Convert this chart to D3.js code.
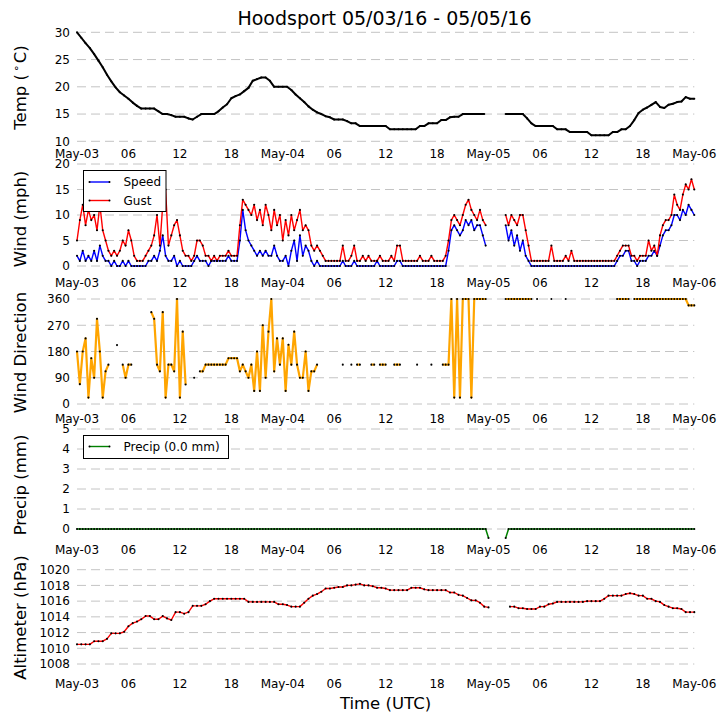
<!DOCTYPE html>
<html><head><meta charset="utf-8">
<script src="https://cdn.jsdelivr.net/npm/d3@7"></script>
<style>body{margin:0;background:#fff}svg{display:block}text{font-family:"DejaVu Sans",sans-serif;fill:#000}</style>
</head><body><svg id="c" width="727" height="725"></svg>
<script>
// ---------- data ----------
const chartTitle = "Hoodsport 05/03/16 - 05/05/16";
const xTickHours = [0,6,12,18,24,30,36,42,48,54,60,66,72];
const xTickLabels = ["May-03","06","12","18","May-04","06","12","18","May-05","06","12","18","May-06"];

const tempTicks = [10,15,20,25,30];
const windTicks = [0,5,10,15,20];
const dirTicks = [0,90,180,270,360];
const precipTicks = [0,1,2,3,4,5];
const altTicks = [1008,1010,1012,1014,1016,1018,1020];

// temperature (deg C), one value every 30 minutes from May-03 00 UTC
const temp = [
30.0,29.0,28.0,27.1,26.0,24.8,23.6,22.2,21.0,19.9,19.0,18.4,
17.8,17.1,16.5,16.0,16.0,16.0,16.0,15.5,15.0,15.0,14.8,14.5,
14.5,14.5,14.2,14.0,14.5,15.0,15.0,15.0,15.0,15.5,16.2,16.8,
17.9,18.3,18.6,19.2,19.8,21.1,21.4,21.7,21.7,21.1,20.0,20.0,
20.0,20.0,19.4,18.6,17.9,17.2,16.4,15.8,15.3,15.0,14.6,14.4,
14.0,14.0,14.0,13.7,13.3,13.3,12.8,12.8,12.8,12.8,12.8,12.8,
12.8,12.2,12.2,12.2,12.2,12.2,12.2,12.2,12.8,12.8,13.3,13.3,
13.3,13.9,13.9,14.4,14.5,14.5,15.0,15.0,15.0,15.0,15.0,15.0,
null,null,null,null,15.0,15.0,15.0,15.0,15.0,14.2,13.3,12.8,
12.8,12.8,12.8,12.8,12.2,12.2,12.2,11.7,11.7,11.7,11.7,11.7,
11.1,11.1,11.1,11.1,11.1,11.7,11.7,12.2,12.2,12.8,13.9,15.2,
15.8,16.2,16.7,17.2,16.3,16.1,16.7,16.9,17.2,17.3,18.1,17.8,
17.8];

// wind speed and gust (mph), one value every 20 minutes
const windSpeed = [
2,1,3, 1,2,1, 3,1,4, 2,1,1, 0,1,0, 0,1,0,
1,0,0, 0,0,0, 0,1,1, 2,1,3, 6,2,1, 1,2,0,
1,0,0, 0,0,1, 2,1,1, 1,0,1, 1,1,1, 1,1,2,
1,1,1, 5,11,7, 5,4,3, 2,3,2, 3,2,2, 4,2,1,
1,2,0, 3,5,1, 6,2,4, 3,1,0, 1,0,0, 0,0,0,
0,0,0, 1,0,0, 0,1,0, 0,0,0, 0,0,0, 1,0,0,
0,0,0, 0,1,1, 0,0,0, 0,0,0, 0,0,0, 0,0,0,
0,0,0, 0,3,7, 8,7,6, 7,9,8, 9,7,8, 8,6,4,
null,null,null, null,null,null, 8,5,7, 4,6,3, 5,2,1, 0,0,0,
0,0,0, 0,0,0, 0,0,0, 0,0,0, 0,0,0, 0,0,0,
0,0,0, 0,0,0, 0,0,0, 1,2,2, 3,3,1, 1,0,1,
1,1,2, 2,3,2, 4,6,7, 7,8,10, 10,9,11, 10,12,11,
10];
const windGust = [
5,9,12, 8,11,9, 10,7,12, 7,5,3, 2,3,2, 3,5,4,
7,5,2, 1,1,1, 2,3,4, 6,10,4, 12,15,4, 6,8,9,
6,3,2, 2,1,2, 5,5,4, 2,2,1, 2,1,2, 2,2,3,
2,2,2, 8,13,12, 11,10,12, 9,11,8, 12,10,7, 11,8,10,
5,9,6, 10,7,9, 11,7,8, 7,4,3, 4,3,2, 1,1,1,
1,1,1, 4,1,1, 2,4,1, 1,2,1, 2,1,1, 1,2,1,
1,1,2, 1,4,4, 1,1,1, 1,1,1, 2,1,1, 1,2,1,
1,1,1, 2,5,9, 10,9,8, 10,12,13, 11,10,9, 11,9,8,
null,null,null, null,null,null, 10,8,10, 9,8,10, 10,7,4, 1,1,1,
1,1,1, 1,4,1, 1,1,1, 2,1,3, 1,1,1, 1,1,1,
1,1,1, 1,1,1, 1,1,1, 2,3,4, 4,4,2, 2,1,2,
2,2,5, 3,4,2, 6,8,9, 9,10,14, 12,11,14, 16,15,17,
15];

// wind direction (degrees), every 20 minutes, null when calm / missing
const windDir = [
180,68,180, 225,22,157, 90,292,180, 22,112,135, null,null,202, null,135,90,
135,135,null, null,null,null, null,null,315, 292,135,112, 315,22,135, 135,112,360,
22,248,67, null,null,90, null,112,112, 135,135,135, 135,135,135, 135,135,157,
157,157,157, 112,135,112, 90,135,45, 180,45,270, 90,248,360, 112,225,135,
225,45,203, 135,248,135, 90,90,180, 45,112,112, 135,null,null, null,null,null,
null,null,null, 135,null,null, 135,null,135, 135,null,null, null,135,135, null,135,135,
135,null,null, 135,135,135, null,null,null, null,null,135, null,null,null, null,135,null,
null,null,135, 135,135,360, 22,360,22, 360,360,360, 22,360,360, 360,360,360,
null,null,null, null,null,null, 360,360,360, 360,360,360, 360,360,360, 360,null,360,
null,null,null, null,360,null, null,null,null, 360,null,null, null,null,null, null,null,null,
null,null,null, null,null,null, null,null,null, 360,360,360, 360,360,null, 360,360,360,
360,360,360, 360,360,360, 360,360,360, 360,360,360, 360,360,360, 360,338,338,
338];

// precipitation (mm), every 20 minutes; -1 = sensor fill value around the outage
const precip = [
0,0,0, 0,0,0, 0,0,0, 0,0,0, 0,0,0, 0,0,0,
0,0,0, 0,0,0, 0,0,0, 0,0,0, 0,0,0, 0,0,0,
0,0,0, 0,0,0, 0,0,0, 0,0,0, 0,0,0, 0,0,0,
0,0,0, 0,0,0, 0,0,0, 0,0,0, 0,0,0, 0,0,0,
0,0,0, 0,0,0, 0,0,0, 0,0,0, 0,0,0, 0,0,0,
0,0,0, 0,0,0, 0,0,0, 0,0,0, 0,0,0, 0,0,0,
0,0,0, 0,0,0, 0,0,0, 0,0,0, 0,0,0, 0,0,0,
0,0,0, 0,0,0, 0,0,0, 0,0,0, 0,0,0, 0,0,0,
-1,null,null, null,null,null, -1,0,0, 0,0,0, 0,0,0, 0,0,0,
0,0,0, 0,0,0, 0,0,0, 0,0,0, 0,0,0, 0,0,0,
0,0,0, 0,0,0, 0,0,0, 0,0,0, 0,0,0, 0,0,0,
0,0,0, 0,0,0, 0,0,0, 0,0,0, 0,0,0, 0,0,0,
0];
const precipTotal = "0.0";

// altimeter (hPa), every 30 minutes
const altimeter = [
1010.5,1010.5,1010.5,1010.5,1010.9,1010.9,1010.9,1011.2,1011.9,1011.9,1011.9,1012.1,
1012.8,1013.2,1013.4,1013.7,1014.1,1014.1,1013.7,1013.7,1014.1,1013.8,1013.6,1014.6,
1014.6,1014.4,1014.6,1015.4,1015.4,1015.4,1015.6,1016.0,1016.3,1016.3,1016.3,1016.3,
1016.3,1016.3,1016.3,1016.3,1015.9,1015.9,1015.9,1015.9,1015.9,1015.9,1015.9,1015.6,
1015.6,1015.5,1015.3,1015.3,1015.3,1015.8,1016.3,1016.7,1016.9,1017.2,1017.6,1017.6,
1017.7,1017.8,1017.8,1018.0,1018.0,1018.1,1018.2,1018.0,1018.0,1017.9,1017.7,1017.7,
1017.6,1017.4,1017.4,1017.4,1017.4,1017.4,1017.7,1017.7,1017.7,1017.5,1017.4,1017.4,
1017.4,1017.4,1017.4,1017.1,1017.1,1016.8,1016.7,1016.4,1016.1,1016.1,1015.8,1015.3,
1015.2,null,null,null,null,1015.3,1015.3,1015.1,1015.1,1015.0,1015.0,1015.0,
1015.3,1015.3,1015.6,1015.7,1015.9,1015.9,1015.9,1015.9,1015.9,1015.9,1015.9,1016.0,
1016.0,1016.0,1016.0,1016.3,1016.7,1016.7,1016.7,1016.7,1016.9,1017.0,1016.9,1016.7,
1016.7,1016.3,1016.3,1016.0,1015.9,1015.5,1015.3,1015.1,1015.1,1015.0,1014.6,1014.6,
1014.6];

// ---------- drawing ----------
const svg = d3.select("#c");
const x = d3.scaleLinear().domain([0,72]).range([77,694.3]);
const toPts = (arr, stepH) => arr.map((v,i)=>({h:i*stepH, v:v}));

const panels = [
  {y:d3.scaleLinear().domain([10,30]).range([141.3,32.3]), ticks:tempTicks, xlabY:157.5, titleY:87.5},
  {y:d3.scaleLinear().domain([0,20]).range([266,164]), ticks:windTicks, xlabY:287, titleY:219},
  {y:d3.scaleLinear().domain([0,360]).range([404,299]), ticks:dirTicks, xlabY:422.5, titleY:352.5},
  {y:d3.scaleLinear().domain([-0.45,5]).range([538,429]).clamp(true), ticks:precipTicks, xlabY:554, titleY:485},
  {y:d3.scaleLinear().domain([1008,1020]).range([664,569.7]), ticks:altTicks, xlabY:688, titleY:617.5}
];

// grid + tick labels
panels.forEach(p=>{
  const g = svg.append("g");
  g.selectAll("line.grid").data(p.ticks).enter().append("line")
    .attr("x1",x(0)).attr("x2",x(72))
    .attr("y1",d=>p.y(d)).attr("y2",d=>p.y(d))
    .attr("stroke","#c4c4c4").attr("stroke-width",1).attr("stroke-dasharray","9,5");
  g.selectAll("text.yt").data(p.ticks).enter().append("text")
    .attr("x",70).attr("y",d=>p.y(d)).attr("dy","0.36em")
    .attr("text-anchor","end").attr("font-size",12).text(d=>d);
  g.selectAll("text.xt").data(xTickHours).enter().append("text")
    .attr("x",d=>x(d)).attr("y",p.xlabY)
    .attr("text-anchor","middle").attr("font-size",12).text((d,i)=>xTickLabels[i]);
});

function drawSeries(p, pts, color, lw){
  const line = d3.line().defined(d=>d.v!==null).x(d=>x(d.h)).y(d=>p.y(d.v));
  svg.append("path").datum(pts).attr("d",line).attr("fill","none")
    .attr("stroke",color).attr("stroke-width",lw).attr("stroke-linejoin","round");
}
function drawDots(p, pts){
  svg.append("g").selectAll("circle").data(pts.filter(d=>d.v!==null)).enter()
    .append("circle").attr("cx",d=>x(d.h)).attr("cy",d=>p.y(d.v)).attr("r",1.05).attr("fill","#000");
}

const tPts = toPts(temp, 0.5);
drawSeries(panels[0], tPts, "#000", 2); drawDots(panels[0], tPts);

const sPts = toPts(windSpeed, 1/3), gPts = toPts(windGust, 1/3);
drawSeries(panels[1], sPts, "#0000ff", 1.4);
drawSeries(panels[1], gPts, "#ff0000", 1.4);
drawDots(panels[1], sPts); drawDots(panels[1], gPts);

const dPts = toPts(windDir, 1/3);
drawSeries(panels[2], dPts, "#ffa500", 2.2); drawDots(panels[2], dPts);

const pPts = toPts(precip, 1/3);
drawSeries(panels[3], pPts, "#008000", 1.5); drawDots(panels[3], pPts);

const aPts = toPts(altimeter, 0.5);
drawSeries(panels[4], aPts, "#ff0000", 1.4); drawDots(panels[4], aPts);

// titles
svg.append("text").attr("x",384.5).attr("y",25).attr("text-anchor","middle")
  .attr("font-size",19).text(chartTitle);

function yTitle(cy, build){
  const t = svg.append("text").attr("transform",`translate(26,${cy}) rotate(-90)`)
    .attr("text-anchor","middle").attr("font-size",16.5);
  build(t);
}
yTitle(panels[0].titleY, t=>{
  t.append("tspan").text("Temp (");
  t.append("tspan").attr("font-size",11).attr("dy",-6).attr("dx",2).text("\u2218");
  t.append("tspan").attr("dy",6).attr("dx",2).text("C)");
});
yTitle(panels[1].titleY, t=>t.text("Wind (mph)"));
yTitle(panels[2].titleY, t=>t.text("Wind Direction"));
yTitle(panels[3].titleY, t=>t.text("Precip (mm)"));
yTitle(panels[4].titleY, t=>t.text("Altimeter (hPa)"));
svg.append("text").attr("x",385.5).attr("y",709).attr("text-anchor","middle")
  .attr("font-size",16.5).text("Time (UTC)");

// legends
function legend(x0,y0,w,h,items){
  const g = svg.append("g");
  g.append("rect").attr("x",x0).attr("y",y0).attr("width",w).attr("height",h)
    .attr("fill","#fff").attr("stroke","#000").attr("stroke-width",1);
  items.forEach(it=>{
    g.append("line").attr("x1",x0+6).attr("x2",x0+26).attr("y1",it.y).attr("y2",it.y)
      .attr("stroke",it.color).attr("stroke-width",1.4);
    [x0+6,x0+26].forEach(cx=>g.append("circle").attr("cx",cx).attr("cy",it.y).attr("r",1).attr("fill","#000"));
    g.append("text").attr("x",x0+40).attr("y",it.y).attr("dy","0.36em").attr("font-size",12).text(it.label);
  });
}
legend(83.5,170.5,82.5,41,[{y:182,color:"#0000ff",label:"Speed"},{y:200.5,color:"#ff0000",label:"Gust"}]);
legend(83.5,435.5,145,23,[{y:446.5,color:"#008000",label:`Precip (${precipTotal} mm)`}]);
</script></body></html>
